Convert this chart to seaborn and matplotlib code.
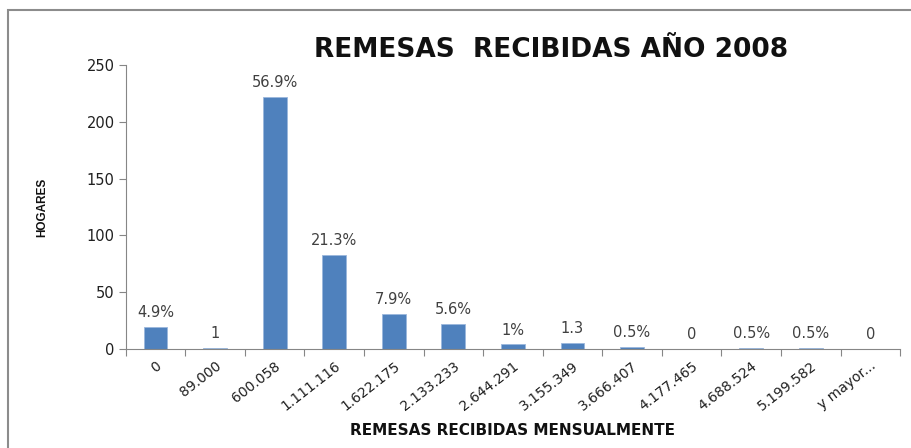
import matplotlib
matplotlib.use('Agg')
import matplotlib.pyplot as plt
import pandas as pd
import seaborn as sns
from matplotlib.patches import Rectangle

# Ranges of monthly remittances received (class lower limits) and household counts.
CATEGORIES = ['0', '89.000', '600.058', '1.111.116', '1.622.175', '2.133.233', '2.644.291',
              '3.155.349', '3.666.407', '4.177.465', '4.688.524', '5.199.582', 'y mayor...']
HOGARES = [19, 1, 222, 83, 31, 22, 4, 5, 2, 0, 1, 1, 0]
BAR_LABELS = ['4.9%', '1', '56.9%', '21.3%', '7.9%', '5.6%', '1%', '1.3', '0.5%', '0',
              '0.5%', '0.5%', '0']

BLUE = '#4F81BD'
AXIS_GRAY = '#868686'

sns.set_theme(style='white')
plt.rcParams['font.family'] = ['DejaVu Sans']

df = pd.DataFrame({'rango': CATEGORIES, 'hogares': HOGARES})

fig = plt.figure(figsize=(9.11, 4.48), dpi=100)
ax = fig.add_axes([0.138, 0.221, 0.850, 0.634])

sns.barplot(data=df, x='rango', y='hogares', color=BLUE, width=0.4, saturation=1,
            edgecolor='#9bb7dc', linewidth=0.6, ax=ax)

for i, (v, lab) in enumerate(zip(HOGARES, BAR_LABELS)):
    ax.annotate(lab, (i, v), xytext=(0, 5), textcoords='offset points', ha='center',
                va='bottom', fontsize=10.5, color='#404040')

ax.set_ylim(0, 250)
ax.set_yticks(range(0, 251, 50))
ax.set_xlim(-0.5, len(CATEGORIES) - 0.5)
ax.set_xticks(range(len(CATEGORIES)))
ax.set_xticklabels(CATEGORIES, rotation=38, ha='right', rotation_mode='anchor',
                   fontsize=10, color='#202020')
ax.set_xticks([i - 0.5 for i in range(len(CATEGORIES) + 1)], minor=True)
ax.tick_params(axis='x', which='major', length=0, pad=7)
ax.tick_params(axis='x', which='minor', length=5, color=AXIS_GRAY, width=0.8,
               direction='out', bottom=True)
ax.tick_params(axis='y', length=5, color=AXIS_GRAY, width=0.8, direction='out', left=True,
               labelsize=10.5, labelcolor='#202020', pad=3)

for side in ['top', 'right']:
    ax.spines[side].set_visible(False)
for side in ['left', 'bottom']:
    ax.spines[side].set_color(AXIS_GRAY)
    ax.spines[side].set_linewidth(0.8)

ax.set_xlabel('REMESAS RECIBIDAS MENSUALMENTE', fontsize=11, fontweight='bold',
              color='#111111')
ax.xaxis.set_label_coords(0.50, -0.262)
ax.set_ylabel('HOGARES', fontsize=8.5, fontweight='bold', color='#111111',
              family=['Liberation Sans', 'DejaVu Sans'])
ax.yaxis.set_label_coords(-0.100, 0.5)

fig.text(0.605, 0.888, 'REMESAS  RECIBIDAS AÑO 2008', ha='center', va='center',
         fontsize=19, fontweight='bold', color='#111111')

fig.patches.append(Rectangle((8 / 911, -0.05), 1.0, 0.978 + 0.05, transform=fig.transFigure,
                             fill=False, edgecolor='#8c8c8c', linewidth=1.5))

fig.savefig('out.png', dpi=100)
